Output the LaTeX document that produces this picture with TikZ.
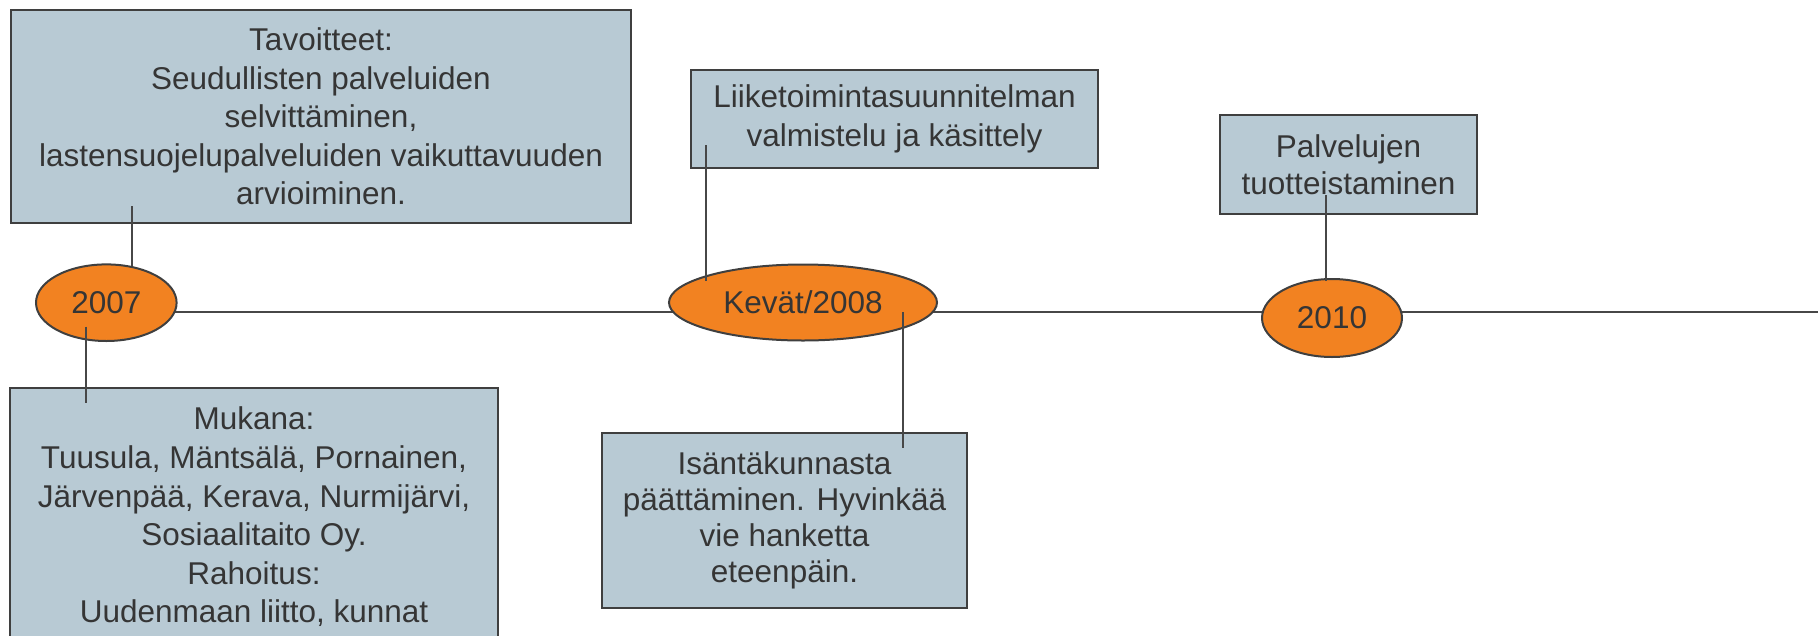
\documentclass[tikz,border=0pt]{standalone}
\usepackage{fontspec}
\setmainfont{Liberation Sans}
\usetikzlibrary{shapes.geometric}
\pgfdeclarelayer{bg}
\pgfsetlayers{bg,main}
\definecolor{boxfill}{HTML}{B8CAD4}
\definecolor{boxline}{HTML}{3F3F3F}
\definecolor{orangefill}{HTML}{F28221}
\definecolor{txt}{HTML}{353535}
\definecolor{linec}{HTML}{474747}
\begin{document}
\begin{tikzpicture}[x=1pt,y=-1pt,
  tbox/.style={draw=boxline,line width=2pt,fill=boxfill,text=txt,inner sep=0pt,align=center,font=\fontsize{31.5}{38.6}\selectfont},
  yearnode/.style={ellipse,draw=boxline,line width=2pt,fill=orangefill,text=txt,inner sep=0pt,font=\fontsize{31.5}{38}\selectfont},
  conn/.style={draw=linec,line width=2pt},
  timeline/.style={draw=linec,line width=2.2pt}]
\clip (0,0) rectangle (1818,635);
% boxes
\node[tbox,minimum width=620pt,minimum height=213pt] (bT) at (321,116.5)
  {Tavoitteet:\\Seudullisten palveluiden\\selvittäminen,\\lastensuojelupalveluiden vaikuttavuuden\\arvioiminen.};
\node[tbox,minimum width=488pt,minimum height=258pt] (bM) at (254,517)
  {Mukana:\\Tuusula, Mäntsälä, Pornainen,\\Järvenpää, Kerava, Nurmijärvi,\\Sosiaalitaito Oy.\\Rahoitus:\\Uudenmaan liitto, kunnat};
\node[tbox,minimum width=407pt,minimum height=98pt,font=\fontsize{31.5}{38.3}\selectfont] (bL) at (894.5,119)
  {Liiketoimintasuunnitelman\\valmistelu ja käsittely};
\node[tbox,minimum width=365pt,minimum height=175pt,font=\fontsize{31.5}{36.2}\selectfont] (bI) at (784.5,520.5)
  {Isäntäkunnasta\\päättäminen. Hyvinkää\\vie hanketta\\eteenpäin.};
\node[tbox,minimum width=257pt,minimum height=99pt,font=\fontsize{31.5}{37}\selectfont] (bP) at (1348.5,164.5)
  {Palvelujen\\tuotteistaminen};
% years
\node[yearnode,minimum width=140.6pt,minimum height=76.6pt] (e2007) at (106.3,302.7) {2007};
\node[yearnode,minimum width=268pt,minimum height=76pt] (e2008) at (803,302.5) {Kevät/2008};
\node[yearnode,minimum width=140pt,minimum height=78pt] (e2010) at (1332,318) {2010};
% timeline
\coordinate (tlEnd) at (1818,312);
\begin{pgfonlayer}{bg}
\draw[timeline] (e2007.center |- tlEnd) -- (tlEnd);
\end{pgfonlayer}
% connectors
\coordinate (c1a) at (131.7,206);
\coordinate (c1b) at (131.7,266);
\draw[conn] (c1a) -- (c1b);
\coordinate (c2a) at (86,326.7);
\coordinate (c2b) at (86,403);
\draw[conn] (c2a) -- (c2b);
\coordinate (c3a) at (706,145);
\coordinate (c3b) at (706,281);
\draw[conn] (c3a) -- (c3b);
\coordinate (c4a) at (902.5,312);
\coordinate (c4b) at (902.5,448);
\draw[conn] (c4a) -- (c4b);
\coordinate (c5a) at (1326,195);
\coordinate (c5b) at (1326,281);
\draw[conn] (c5a) -- (c5b);
\end{tikzpicture}
\end{document}
